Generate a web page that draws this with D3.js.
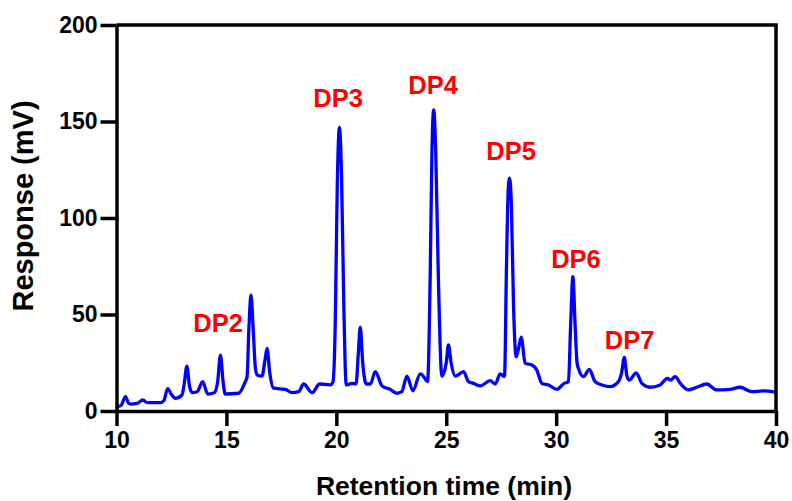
<!DOCTYPE html>
<html>
<head>
<meta charset="utf-8">
<script src="https://cdn.jsdelivr.net/npm/d3@7"></script>
<style>
  body { margin: 0; background: #fff; }
  svg text { font-family: "Liberation Sans", Arial, sans-serif; font-weight: bold; }
</style>
</head>
<body>
<div id="chart"></div>
<script>
// retention time (min) and detector response (mV)
const times = [10.0, 10.2, 10.41, 10.55, 10.64, 10.94, 11.2, 11.4, 12.0, 12.15, 12.33, 12.5, 12.68, 12.98,
  13.08, 13.2, 13.32, 13.44, 13.67, 13.92, 14.15, 14.45, 14.6, 14.73, 14.85, 14.95, 15.56, 15.83, 15.94,
  16.02, 16.12, 16.22, 16.32, 16.4, 16.62, 16.75, 16.85, 16.97, 17.15, 17.68, 17.98, 18.29, 18.51, 18.9,
  19.24, 19.73, 19.85, 19.95, 20.04, 20.14, 20.24, 20.34, 20.45, 20.71, 20.9, 21.0, 21.09, 21.2, 21.36,
  21.55, 21.77, 22.08, 22.45, 22.76, 22.98, 23.21, 23.48, 23.82, 23.97, 24.15, 24.27, 24.35, 24.43, 24.52,
  24.64, 24.8, 25.0, 25.1, 25.22, 25.41, 25.79, 26.01, 26.24, 26.55, 27.0, 27.23, 27.45, 27.65, 27.74,
  27.82, 27.88, 27.96, 28.06, 28.18, 28.3, 28.41, 28.59, 28.9, 29.12, 29.35, 29.65, 30.03, 30.36, 30.56,
  30.66, 30.76, 30.86, 30.95, 31.01, 31.24, 31.51, 31.77, 32.08, 32.45, 32.83, 32.98, 33.1, 33.22, 33.33,
  33.64, 33.9, 34.27, 34.73, 35.06, 35.21, 35.41, 35.67, 36.02, 36.39, 36.85, 37.3, 37.9, 38.36, 38.9,
  39.42, 40.0];
const response = [2.2, 2.8, 7.4, 4.0, 3.6, 4.0, 5.7, 4.3, 4.3, 5.3, 11.6, 8.5, 6.6, 8.3,
  14, 23.3, 13, 9.5, 10, 15.2, 8.8, 9.5, 15, 29, 15, 8.8, 9.2, 14.4, 17.8,
  42, 60, 42, 22, 18.7, 18.1, 26, 32.5, 20, 11.8, 11.2, 9.5, 10, 14, 9.5,
  14, 13.5, 15.2, 45, 115, 147, 120, 55, 13.5, 14.3, 14, 30, 43.4, 25, 14,
  14, 20.4, 13, 11.2, 9.2, 10, 18.1, 10.5, 19.2, 17.8, 15.2, 70, 135, 156, 135,
  70, 18, 25, 34.2, 25, 18.1, 20.4, 15.2, 14.3, 13, 15.7, 14, 19.2, 17.8, 75,
  115, 120.6, 108, 55, 28.1, 33, 38.2, 24.7, 23.8, 21.2, 14.3, 13.5, 11.2, 14.3, 15.2,
  45, 69.6, 45, 25, 22.1, 17.8, 21.6, 15.2, 13.5, 12.6, 15.2, 20, 27.8, 18, 16,
  19.8, 14.3, 12.3, 13.5, 16.9, 16, 17.8, 14, 10.9, 12.3, 14, 10.9, 11.2, 12.3, 10,
  10.4, 9.7];

// peak labels
const peak_names = ['DP2', 'DP3', 'DP4', 'DP5', 'DP6', 'DP7'];
const peak_label_t = [14.62, 20.08, 24.4, 27.95, 30.9, 33.34];
const peak_label_v = [41, 157.5, 164, 130, 74, 32];

const x_ticks = [10, 15, 20, 25, 30, 35, 40];
const y_ticks = [0, 50, 100, 150, 200];

const width = 792, height = 501;
const line_color = '#0000ff';
const label_color = '#ff0000';

const x = d3.scaleLinear().domain([10, 40]).range([116.5, 776]);
const y = d3.scaleLinear().domain([0, 200]).range([411, 25]);

const svg = d3.select('#chart').append('svg')
  .attr('width', width)
  .attr('height', height);

// trace
const points = times.map((t, i) => [t, response[i]]);
svg.append('path')
  .datum(points)
  .attr('fill', 'none')
  .attr('stroke', line_color)
  .attr('stroke-width', 3.3)
  .attr('stroke-linejoin', 'round')
  .attr('d', d3.line().curve(d3.curveMonotoneX).x(d => x(d[0])).y(d => y(d[1])));

// frame: top and right
svg.append('line')
  .attr('x1', x(10)).attr('x2', x(40) + 1.75)
  .attr('y1', y(200)).attr('y2', y(200))
  .attr('stroke', '#000').attr('stroke-width', 3.5);
svg.append('line')
  .attr('x1', x(40)).attr('x2', x(40))
  .attr('y1', y(200)).attr('y2', y(0))
  .attr('stroke', '#000').attr('stroke-width', 3.5);

function style_axis(g, size) {
  g.select('.domain').attr('stroke-width', 3.5);
  g.selectAll('.tick line').attr('stroke-width', 3.5);
  g.selectAll('.tick text')
    .attr('fill', '#000')
    .style('font-size', size + 'px');
}

svg.append('g')
  .attr('transform', 'translate(0,' + y(0) + ')')
  .call(d3.axisBottom(x).tickValues(x_ticks).tickSize(15).tickSizeOuter(0).tickPadding(6))
  .call(g => style_axis(g, 23));

svg.append('g')
  .attr('transform', 'translate(' + x(10) + ',0)')
  .call(d3.axisLeft(y).tickValues(y_ticks).tickSize(16).tickSizeOuter(0).tickPadding(3))
  .call(g => style_axis(g, 23));

// axis titles
svg.append('text')
  .attr('x', 444)
  .attr('y', 495)
  .attr('text-anchor', 'middle')
  .style('font-size', '26.5px')
  .text('Retention time (min)');

svg.append('text')
  .attr('transform', 'translate(33,206) rotate(-90)')
  .attr('text-anchor', 'middle')
  .style('font-size', '29px')
  .text('Response (mV)');

// peak labels
svg.selectAll('.peak_label')
  .data(peak_names)
  .enter()
  .append('text')
    .attr('class', 'peak_label')
    .attr('x', (d, i) => x(peak_label_t[i]))
    .attr('y', (d, i) => y(peak_label_v[i]))
    .attr('text-anchor', 'middle')
    .attr('fill', label_color)
    .style('font-size', '25.5px')
    .text(d => d);
</script>
</body>
</html>
